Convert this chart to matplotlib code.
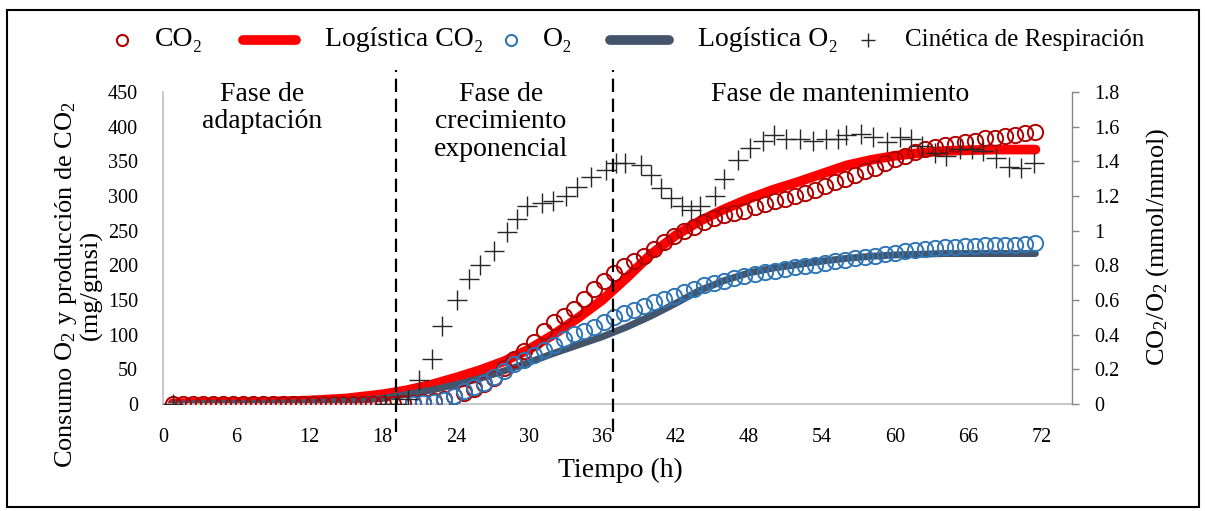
import matplotlib
matplotlib.use("Agg")
import matplotlib.pyplot as plt
from matplotlib.lines import Line2D
from matplotlib.patches import Rectangle

plt.rcParams['font.family'] = ['Liberation Serif', 'DejaVu Serif']
plt.rcParams['mathtext.fontset'] = 'custom'
plt.rcParams['mathtext.rm'] = 'Liberation Serif'
plt.rcParams['mathtext.it'] = 'Liberation Serif:italic'

# ---------------- data ----------------
# measurement times (h) of the CO2 / O2 circles
t_meas = [round(0.8 + 0.822 * i, 2) for i in range(87)]

co2 = [0, 0, 0, 0, 0, 0, 0, 0, 0, 0, 0, 0, 0, 0, 0, 0, 0, 0, 0, 0, 0, 0,
       0, 1, 2, 3, 5, 7, 11, 16, 22, 29, 38, 52, 65, 77, 90, 106, 118, 127,
       137, 152, 166, 178, 189, 199, 206, 213, 224, 234, 242, 250, 256, 262,
       268, 272, 275, 279, 284, 288, 293, 296, 300, 305, 309, 315, 320, 325,
       331, 336, 341, 347, 353, 358, 364, 368, 370, 373, 375, 378, 380, 383,
       384, 386, 388, 391, 393]

t_o2 = t_meas[24:]
o2 = [0, 1, 3, 6, 12, 19, 25, 31, 39, 48, 57, 63, 70, 78, 85, 94, 101, 106,
      111, 118, 125, 131, 136, 142, 147, 151, 156, 161, 166, 172, 175, 178,
      182, 185, 188, 190, 192, 194, 197, 199, 201, 203, 206, 208, 210, 212,
      214, 216, 218, 221, 222, 224, 225, 227, 227, 228, 228, 229, 229, 230,
      230, 231, 232]

# logistic fits (read at selected times)
t_fit = [0.8, 4, 8, 12, 15, 18, 20, 22, 24, 26, 28, 30, 32, 34, 36, 38, 40,
         42, 44, 46, 48, 50, 52, 54, 56, 58, 60, 62, 64, 66, 68, 70, 71.5]
co2_fit = [1, 2, 3, 5, 8, 14, 20, 28, 38, 49, 62, 79, 100, 124, 150, 182,
           216, 243, 264, 281, 296, 309, 320, 332, 344, 352, 358, 362, 365,
           366, 367, 367, 367]
o2_fit = [0, 1, 1, 2, 4, 8, 14, 20, 28, 37, 48, 60, 73, 85, 97, 111, 127,
          145, 164, 178, 189, 196, 201, 206, 210, 213, 215, 216, 217, 217,
          217, 217, 217]

# respiration quotient CO2/O2
t_rq = [0.8, 18.2, 19.2, 20.1, 21.0, 22.05, 22.9, 24.1, 25.06, 26.0, 27.1,
        28.2, 29.0, 29.85, 31.1, 32.0, 33.0, 33.96, 35.06, 36.3, 37.1, 37.9,
        39.2, 40.0, 40.8, 41.6, 42.5, 43.3, 44.0, 45.2, 46.0, 47.1, 48.1,
        49.2, 50.1, 51.1, 52.2, 53.3, 54.3, 55.3, 56.0, 57.2, 58.2, 59.3,
        60.4, 61.3, 62.2, 63.3, 64.2, 65.3, 66.3, 67.2, 68.3, 69.3, 70.3,
        71.4]
rq = [0, 0, 0, 0.03, 0.14, 0.26, 0.45, 0.60, 0.72, 0.80, 0.88, 0.99, 1.07,
      1.14, 1.16, 1.17, 1.20, 1.25, 1.31, 1.35, 1.39, 1.39, 1.38, 1.32,
      1.245, 1.19, 1.14, 1.12, 1.14, 1.20, 1.30, 1.41, 1.475, 1.52, 1.55,
      1.53, 1.53, 1.52, 1.53, 1.53, 1.55, 1.56, 1.54, 1.51, 1.54, 1.53,
      1.49, 1.45, 1.43, 1.47, 1.47, 1.46, 1.42, 1.37, 1.36, 1.39]

phase_bounds = [19.1, 36.9]
x_ticks = [0, 6, 12, 18, 24, 30, 36, 42, 48, 54, 60, 66, 72]
y_ticks = [0, 50, 100, 150, 200, 250, 300, 350, 400, 450]
y2_ticks = [0, 0.2, 0.4, 0.6, 0.8, 1, 1.2, 1.4, 1.6, 1.8]
y2_labels = ['0', '0.2', '0.4', '0.6', '0.8', '1', '1.2', '1.4', '1.6', '1.8']

# colours
C_CO2 = '#B00000'
C_FIT_CO2 = '#FF0000'
C_O2 = '#2E75B6'
C_FIT_O2 = '#44546A'
C_RQ = '#262626'

W, H = 1205, 511
fig = plt.figure(figsize=(W / 100, H / 100), dpi=100)


def fx(x):
    return x / W


def fy(y):
    return 1 - y / H


ax = fig.add_axes([fx(163), fy(404), (1072 - 163) / W, (404 - 92) / H])
ax2 = ax.twinx()

ax.plot(t_fit, co2_fit, color=C_FIT_CO2, lw=7, solid_capstyle='round', zorder=1)
ax.plot(t_fit, o2_fit, color=C_FIT_O2, lw=5, solid_capstyle='round', zorder=2)
ax.plot(t_meas, co2, ls='none', marker='o', ms=11, mfc='none', mec=C_CO2,
        mew=1.4, zorder=3)
ax.plot(t_o2, o2, ls='none', marker='o', ms=11, mfc='none', mec=C_O2,
        mew=1.4, zorder=4)

ax2.plot(t_rq, rq, ls='none', marker='+', ms=14, mew=1.0, color=C_RQ, zorder=5)
for xb in phase_bounds:
    ax2.axvline(xb, ymin=-0.09, ymax=1.07, color='black', lw=1.6,
                ls=(0, (6, 3)), clip_on=False, zorder=6)

ax.set_xlim(0, 74.5)
ax.set_ylim(0, 450)
ax2.set_ylim(0, 1.8)
ax.set_xticks(x_ticks)
ax.set_yticks(y_ticks)
ax2.set_yticks(y2_ticks)
ax2.set_yticklabels(y2_labels)

for a in (ax, ax2):
    a.spines['top'].set_visible(False)
ax.spines['right'].set_visible(False)
ax2.spines['left'].set_visible(False)
ax2.spines['bottom'].set_visible(False)
ax.spines['left'].set_color('#BFBFBF')
ax.spines['bottom'].set_color('#BFBFBF')
ax.spines['left'].set_linewidth(1.2)
ax.spines['bottom'].set_linewidth(1.2)
ax2.spines['right'].set_color('#868686')
ax2.spines['right'].set_linewidth(1.0)

ax.tick_params(axis='both', length=0, labelsize=14.5, colors='black')
ax.tick_params(axis='y', pad=18)
ax.tick_params(axis='x', pad=17)
ax2.tick_params(axis='y', direction='out', length=5, width=1.0,
                color='#868686', labelsize=14.5, pad=11)

# axis titles
fig.text(fx(78), fy(285), 'Consumo O$_\\mathrm{2}$ y producción de CO$_\\mathrm{2}$\n(mg/gmsi)',
         rotation=90, ha='center', va='center', fontsize=19,
         multialignment='center', linespacing=1.0)
fig.text(fx(1158), fy(247), 'CO$_\\mathrm{2}$/O$_\\mathrm{2}$ (mmol/mmol)', rotation=90,
         ha='center', va='center', fontsize=19)
fig.text(fx(620), fy(470), 'Tiempo (h)', ha='center', va='center', fontsize=20)

# phase labels
fig.text(fx(262), fy(82), 'Fase de\nadaptación', ha='center', va='top',
         fontsize=20, linespacing=1.12)
fig.text(fx(501), fy(82), 'Fase de\ncrecimiento\nexponencial', ha='center',
         va='top', fontsize=20, linespacing=1.12)
fig.text(fx(840), fy(82), 'Fase de mantenimiento', ha='center', va='top',
         fontsize=20)

# legend (drawn in pixel positions)
ly = 40
fig.add_artist(Line2D([fx(122)], [fy(ly)], marker='o', ms=8, mfc='none',
                      mec=C_CO2, mew=1.5, ls='none', transform=fig.transFigure))
fig.text(fx(155), fy(ly), 'CO₂', ha='left', va='center', fontsize=20)
fig.add_artist(Line2D([fx(243), fx(296)], [fy(ly), fy(ly)], color=C_FIT_CO2,
                      lw=7, solid_capstyle='round', transform=fig.transFigure))
fig.text(fx(325), fy(ly), 'Logística CO₂', ha='left', va='center', fontsize=20)
fig.add_artist(Line2D([fx(511)], [fy(ly)], marker='o', ms=8, mfc='none',
                      mec=C_O2, mew=1.5, ls='none', transform=fig.transFigure))
fig.text(fx(543), fy(ly), 'O₂', ha='left', va='center', fontsize=20)
fig.add_artist(Line2D([fx(610), fx(669)], [fy(ly), fy(ly)], color=C_FIT_O2,
                      lw=7, solid_capstyle='round', transform=fig.transFigure))
fig.text(fx(698), fy(ly), 'Logística O₂', ha='left', va='center', fontsize=20)
fig.add_artist(Line2D([fx(868)], [fy(ly)], marker='+', ms=10, mew=1.0,
                      color=C_RQ, ls='none', transform=fig.transFigure))
fig.text(fx(905), fy(ly), 'Cinética de Respiración', ha='left', va='center',
         fontsize=18)

# outer frame
fig.add_artist(Rectangle((fx(7), fy(507)), (1199 - 7) / W, (507 - 10) / H,
                         transform=fig.transFigure, fill=False, lw=1.5,
                         ec='black'))

fig.savefig('out.png', dpi=100)
